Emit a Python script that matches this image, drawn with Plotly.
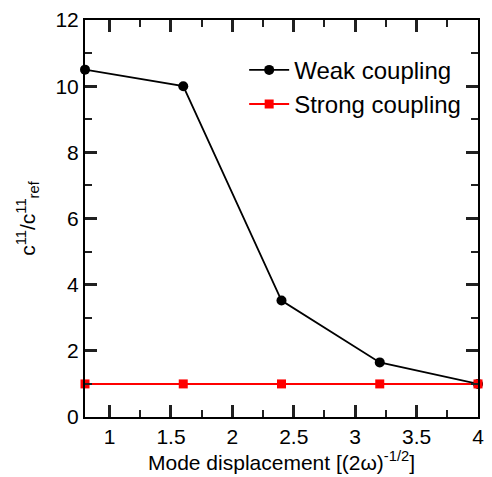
import plotly.graph_objects as go

x_vals = [0.8, 1.6, 2.4, 3.2, 4.0]
weak = [10.5, 10.0, 3.52, 1.65, 1.0]
strong = [1.0, 1.0, 1.0, 1.0, 1.0]

fig = go.Figure()
fig.add_trace(go.Scatter(x=x_vals, y=weak, mode="lines+markers", name="Weak coupling",
                         line=dict(color="black", width=1.8),
                         marker=dict(symbol="circle", size=10, color="black"), cliponaxis=False))
fig.add_trace(go.Scatter(x=x_vals, y=strong, mode="lines+markers", name="Strong coupling",
                         line=dict(color="#ff0000", width=2),
                         marker=dict(symbol="square", size=9, color="#ff0000"), cliponaxis=False))
# invisible trace to activate the minor-tick overlay axes
fig.add_trace(go.Scatter(x=x_vals, y=strong, xaxis="x2", yaxis="y2", mode="markers",
                         marker=dict(opacity=0), showlegend=False, hoverinfo="skip"))

font = "Liberation Sans, Arial, sans-serif"
tick_color = "#202020"
fig.update_layout(
    width=492, height=477,
    margin=dict(l=85, r=8, t=18, b=59),
    paper_bgcolor="white", plot_bgcolor="white",
    font=dict(family=font, color="black"),
    showlegend=True,
    legend=dict(x=0.405, y=0.93, xanchor="left", yanchor="top",
                font=dict(size=24, family=font), bgcolor="rgba(0,0,0,0)",
                itemwidth=40, tracegroupgap=0),
    xaxis=dict(range=[0.8, 4.0], tick0=1, dtick=0.5,
               ticks="inside", ticklen=12, tickwidth=2.5, tickcolor=tick_color,
               showline=True, linewidth=2, linecolor="black", mirror="ticks",
               showgrid=False, zeroline=False, tickfont=dict(size=21),
               title=dict(text="Mode displacement [(2ω)<sup>-1/2</sup>]", font=dict(size=21), standoff=6)),
    yaxis=dict(range=[0, 12], tick0=0, dtick=2,
               ticks="inside", ticklen=12, tickwidth=2.5, tickcolor=tick_color,
               showline=True, linewidth=2, linecolor="black", mirror="ticks",
               showgrid=False, zeroline=False, tickfont=dict(size=21),
               title=dict(text="c<sup>11</sup>/c<sup>11</sup><sub>ref</sub>", font=dict(size=21), standoff=14)),
    xaxis2=dict(range=[0.8, 4.0], overlaying="x", side="bottom", tick0=1, dtick=0.25,
                ticks="inside", ticklen=7, tickwidth=2, tickcolor=tick_color,
                showline=False, mirror="ticks", showticklabels=False,
                showgrid=False, zeroline=False),
    yaxis2=dict(range=[0, 12], overlaying="y", side="left", tick0=0, dtick=1,
                ticks="inside", ticklen=7, tickwidth=2, tickcolor=tick_color,
                showline=False, mirror="ticks", showticklabels=False,
                showgrid=False, zeroline=False),
)
fig.write_html("out.html")
